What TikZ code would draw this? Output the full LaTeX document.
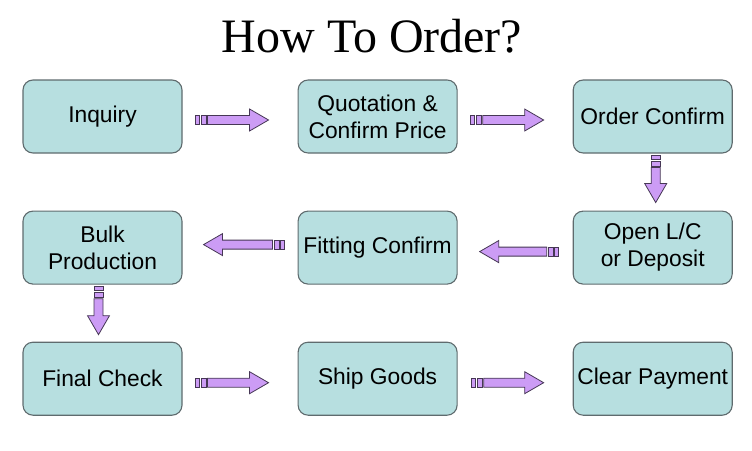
\documentclass[tikz,border=0pt]{standalone}
\usepackage{fontspec}
\setmainfont{Liberation Serif}
\setsansfont{Liberation Sans}
\usetikzlibrary{positioning}
\usetikzlibrary{calc}
\usetikzlibrary{decorations.markings}

\definecolor{boxfill}{RGB}{183,223,224}
\definecolor{boxline}{RGB}{95,107,110}
\definecolor{arrowfill}{RGB}{204,156,245}
\definecolor{arrowline}{RGB}{70,55,85}

\begin{document}
\begin{tikzpicture}[x=1pt,y=-1pt]
	\tikzstyle{stepbox}=[rectangle,rounded corners=10pt,draw=boxline,line width=1.1pt,fill=boxfill,minimum width=159pt,minimum height=73pt,align=center,font=\sffamily\fontsize{22.8}{27}\selectfont]
	\tikzstyle{flow}=[decoration={markings,mark=at position 0 with {
		\pgfmathsetmacro\alen{\pgfdecoratedpathlength}
		\draw[arrowline,line width=0.8pt,fill=arrowfill] (0pt,-4.5pt) rectangle (4pt,4.5pt);
		\draw[arrowline,line width=0.8pt,fill=arrowfill] (5.5pt,-4.5pt) rectangle (10.5pt,4.5pt);
		\draw[arrowline,line width=0.8pt,fill=arrowfill] (12pt,-4.5pt) -- (\alen pt-19pt,-4.5pt) -- (\alen pt-19pt,-11pt) -- (\alen pt,0pt) -- (\alen pt-19pt,11pt) -- (\alen pt-19pt,4.5pt) -- (12pt,4.5pt) -- cycle;
	}},postaction=decorate]
	\useasboundingbox (0,0) rectangle (752,450);
	
	\node (title) at (372,36) {\fontsize{48}{50}\selectfont How To Order?};
	
	% first row
	\node [stepbox] (inq) at (102.5,116.5) {Inquiry};
	\node [stepbox,right=115pt of inq] (quo) {Quotation \&\\Confirm Price};
	\node [stepbox,right=115pt of quo] (ord) {Order Confirm};
	% second row
	\node [stepbox,below=57pt of ord] (opn) {Open L/C\\or Deposit};
	\node [stepbox,below=57pt of quo] (fit) {Fitting Confirm};
	\node [stepbox,below=57pt of inq] (blk) {Bulk\\Production};
	% third row
	\node [stepbox,below=57pt of blk] (fin) {Final Check};
	\node [stepbox,below=57pt of fit] (shp) {Ship Goods};
	\node [stepbox,below=57pt of opn] (clr) {Clear Payment};
	
	\path[flow] ($(inq.east)+(13,3.5)$) -- ($(quo.west)+(-29,3.5)$);
	\path[flow] ($(quo.east)+(13,3.5)$) -- ($(ord.west)+(-29,3.5)$);
	\path[flow] ($(ord.south)+(3,2)$) -- ($(opn.north)+(3,-8)$);
	\path[flow] ($(opn.west)+(-14,4)$) -- ($(fit.east)+(22,4)$);
	\path[flow] ($(fit.west)+(-13,-3)$) -- ($(blk.east)+(21,-3)$);
	\path[flow] ($(blk.south)+(-4,2)$) -- ($(fin.north)+(-4,-7)$);
	\path[flow] ($(fin.east)+(13,4)$) -- ($(shp.west)+(-29,4)$);
	\path[flow] ($(shp.east)+(14,4)$) -- ($(clr.west)+(-29,4)$);
\end{tikzpicture}
\end{document}
